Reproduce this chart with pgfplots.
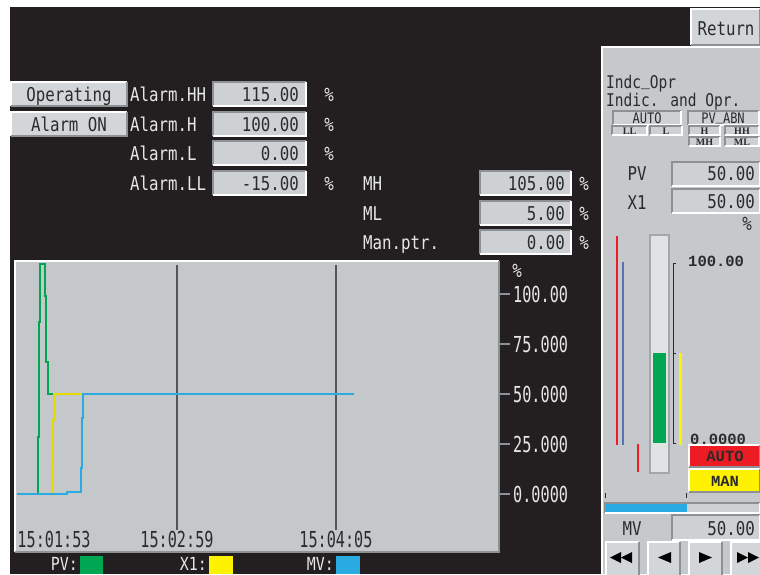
\documentclass[border=0pt]{standalone}
\usepackage{fontspec}
\setmainfont{DejaVu Sans Mono}[FakeStretch=0.83]
\newfontfamily\tallfont{DejaVu Sans Mono}[FakeStretch=0.69]
\newfontfamily\bmono{Liberation Mono}
\newfontfamily\bserif{Liberation Serif}
\usepackage{pgfplots}
\pgfplotsset{compat=1.18}

\definecolor{bgdark}{HTML}{231F20}
\definecolor{panel}{HTML}{C5C9CC}
\definecolor{plotgray}{HTML}{C4C8CB}
\definecolor{fieldfill}{HTML}{CDD1D4}
\definecolor{btnfill}{HTML}{D3D6D8}
\definecolor{lighttext}{HTML}{E6E7E8}
\definecolor{darktext}{HTML}{2B2B2B}
\definecolor{shadow}{HTML}{8E9194}
\definecolor{pvgreen}{HTML}{00A651}
\definecolor{xyellow}{HTML}{FFF200}
\definecolor{mvblue}{HTML}{29ABE2}
\definecolor{alarmred}{HTML}{ED1C24}
\definecolor{limblue}{HTML}{5B6FB8}

% sunken field: x1 y1 x2 y2 (y grows downwards)
\newcommand\sunken[4]{%
  \fill[fieldfill] (#1,#2) rectangle (#3,#4);
  \draw[shadow,line width=1.5pt] (#1,#4) -- (#1,#2) -- (#3,#2);
  \draw[white,line width=1.5pt] (#3,#2) -- (#3,#4) -- (#1,#4);}
% raised button: x1 y1 x2 y2 fill
\newcommand\raised[5]{%
  \fill[#5] (#1,#2) rectangle (#3,#4);
  \draw[white,line width=1.5pt] (#1,#4) -- (#1,#2) -- (#3,#2);
  \draw[shadow,line width=1.5pt] (#3,#2) -- (#3,#4) -- (#1,#4);}
% text: x, vertical centre, colour, text
\newcommand\lt[4]{\node[anchor=base west,inner sep=0pt,text=#3] at (#1,{#2+7}) {#4};}
\newcommand\rt[4]{\node[anchor=base east,inner sep=0pt,text=#3] at (#1,{#2+7}) {#4};}
\newcommand\ct[4]{\node[anchor=base,inner sep=0pt,text=#3] at (#1,{#2+7}) {#4};}
\newcommand\us{\raisebox{3pt}{\symbol{95}}}

\begin{document}
\begin{tikzpicture}[x=1pt,y=-1pt,font=\fontsize{19}{21}\selectfont]
\useasboundingbox (0,0) rectangle (760,574);
\fill[white] (0,0) rectangle (760,574);
\fill[bgdark] (10,7) rectangle (760,574);

% ---- alarm settings
\raised{11}{82}{127}{106}{btnfill}
\raised{11}{112}{127}{136}{btnfill}
\ct{69}{94}{darktext}{Operating}
\ct{69}{124}{darktext}{Alarm ON}
\lt{130}{94}{lighttext}{Alarm.HH}
\lt{130}{124}{lighttext}{Alarm.H}
\lt{130}{153}{lighttext}{Alarm.L}
\lt{130}{183}{lighttext}{Alarm.LL}
\sunken{213}{82}{306}{106}
\sunken{213}{112}{306}{136}
\sunken{213}{141}{306}{165}
\sunken{213}{171}{306}{195}
\rt{299}{94}{darktext}{115.00}
\rt{299}{124}{darktext}{100.00}
\rt{299}{153}{darktext}{0.00}
\rt{299}{183}{darktext}{-15.00}
\foreach \yy in {94,124,153,183} {\ct{329}{\yy}{lighttext}{\%}}

\lt{363}{183}{lighttext}{MH}
\lt{363}{213}{lighttext}{ML}
\lt{363}{242}{lighttext}{Man.ptr.}
\sunken{480}{171}{571}{195}
\sunken{480}{201}{571}{225}
\sunken{480}{230}{571}{254}
\rt{565}{183}{darktext}{105.00}
\rt{565}{213}{darktext}{5.00}
\rt{565}{242}{darktext}{0.00}
\foreach \yy in {183,213,242} {\ct{584}{\yy}{lighttext}{\%}}

% ---- trend
\begin{axis}[
  at={(15pt,-552pt)}, anchor=south west,
  width=484pt, height=291pt, scale only axis,
  xmin=-1.25, xmax=199.7, ymin=-29, ymax=116.5,
  axis background/.style={fill=plotgray},
  axis line style={draw=none},
  xtick=\empty,
  ytick={0,25,50,75,100},
  yticklabels={0.0000,25.000,50.000,75.000,100.00},
  ytick pos=right, yticklabel pos=right,
  tick align=outside, major tick length=11pt,
  tick style={draw=shadow,line width=1.3pt},
  yticklabel style={font=\tallfont\fontsize{22}{22}\selectfont,
    text=lighttext, anchor=west, inner sep=0pt, xshift=3pt},
]
\draw[darktext!80,line width=1.3pt] (axis cs:66,114.5) -- (axis cs:66,-18);
\draw[darktext!80,line width=1.3pt] (axis cs:132,114.5) -- (axis cs:132,-18);
\addplot[pvgreen,line width=2pt] coordinates {
  (-0.5,0) (8.2,0) (8.2,28.5) (8.6,28.5) (8.6,86) (9.1,86) (9.1,115)
  (11.1,115) (11.1,99) (11.6,99) (11.6,66) (12.3,66) (12.3,50) (139.5,50)};
\addplot[xyellow!90!black,line width=2pt] coordinates {
  (-0.5,0) (14.1,0) (14.1,12) (14.5,12) (14.5,37) (14.9,37) (14.9,50) (139.5,50)};
\addplot[mvblue,line width=2pt] coordinates {
  (-0.5,0) (20.3,0) (20.3,1) (26.2,1) (26.2,13) (26.6,13) (26.6,38)
  (27.0,38) (27.0,50) (139.5,50)};
\node[anchor=base west,inner sep=0pt,font=\tallfont\fontsize{22}{22}\selectfont,text=darktext]
  at (axis cs:-0.3,-26.5) {15:01:53};
\node[anchor=base,inner sep=0pt,font=\tallfont\fontsize{22}{22}\selectfont,text=darktext]
  at (axis cs:66,-26.5) {15:02:59};
\node[anchor=base,inner sep=0pt,font=\tallfont\fontsize{22}{22}\selectfont,text=darktext]
  at (axis cs:132,-26.5) {15:04:05};
\end{axis}
\draw[white,line width=1.5pt] (15,552) -- (15,261) -- (499,261);
\draw[shadow,line width=2pt] (499,261) -- (499,552) -- (15,552);
\ct{517}{270}{lighttext}{\%}

% legend
\begin{scope}[font=\fontsize{18}{18}\selectfont]
\node[anchor=base east,inner sep=0pt,text=lighttext] at (78,570) {PV:};
\node[anchor=base east,inner sep=0pt,text=lighttext] at (207,570) {X1:};
\node[anchor=base east,inner sep=0pt,text=lighttext] at (334,570) {MV:};
\end{scope}
\fill[pvgreen] (80,556) rectangle (103,574);
\fill[xyellow] (209,556) rectangle (233,574);
\fill[mvblue] (336,556) rectangle (360,574);

% ---- right panel
\raised{691}{9}{760}{45}{btnfill}
\ct{726}{28}{darktext}{Return}
\fill[panel] (602,47) rectangle (760,574);
\draw[white,line width=1.5pt] (602,574) -- (602,47) -- (760,47);
\begin{scope}[font=\fontsize{17.5}{18}\selectfont]
\node[anchor=base west,inner sep=0pt,text=darktext] at (606,88) {Indc\us Opr};
\node[anchor=base west,inner sep=0pt,text=darktext] at (606,106) {Indic. and Opr.};
\end{scope}
\sunken{613}{111}{681}{125}
\sunken{688}{111}{759}{125}
\node[anchor=base,inner sep=0pt,text=darktext,font=\fontsize{14.5}{15}\selectfont] at (647,123) {AUTO};
\node[anchor=base,inner sep=0pt,text=darktext,font=\fontsize{14.5}{15}\selectfont] at (723,123) {PV\us ABN};
\begin{scope}[font=\bserif\bfseries\fontsize{10}{10}\selectfont]
\foreach \xa/\xb/\yy/\tx in {612/647/126/LL,650/682/126/L,689/720/126/H,725/759/126/HH,689/720/137/MH,725/759/137/ML} {
  \sunken{\xa}{\yy}{\xb}{\yy+9}
  \node[anchor=base,inner sep=0pt,text=darktext] at ({(\xa+\xb)/2},\yy+8) {\tx};
}
\end{scope}
\ct{637}{173}{darktext}{PV}
\ct{637}{202}{darktext}{X1}
\sunken{672}{162}{760}{186}
\sunken{672}{189}{760}{213}
\rt{755}{173}{darktext}{50.00}
\rt{755}{201}{darktext}{50.00}
\ct{747}{223}{darktext}{\%}

% bargraph
\begin{axis}[
  at={(600pt,-480pt)}, anchor=south west,
  width=100pt, height=250pt, scale only axis,
  xmin=600, xmax=700, ymin=-20.56, ymax=118.33,
  hide axis, clip=false,
]
\fill[btnfill!70!white] (axis cs:650,115.5) rectangle (axis cs:669,-16.7);
\draw[shadow!80,line width=2.5pt] (axis cs:650,115.5) rectangle (axis cs:669,-16.7);
\addplot[alarmred,line width=1.3pt] coordinates {(617,115) (617,-1.1)};
\addplot[limblue,line width=1.3pt] coordinates {(623,100.6) (623,-1.1)};
\addplot[alarmred,line width=1.3pt] coordinates {(638,-0.6) (638,-16.1)};
\addplot[fill=pvgreen,draw=none] coordinates {(653,0) (653,50) (666,50) (666,0)} -- cycle;
\addplot[xyellow,line width=3pt] coordinates {(680.5,50) (680.5,-1.1)};
\draw[darktext,line width=0.9pt] (axis cs:676,100) -- (axis cs:673,100) -- (axis cs:673,0) -- (axis cs:676,0);
\draw[darktext,line width=0.9pt] (axis cs:673,50) -- (axis cs:676,50);
\node[anchor=west,inner sep=0pt,font=\bmono\bfseries\fontsize{15.5}{15.5}\selectfont,text=darktext]
  at (axis cs:688,101) {100.00};
\node[anchor=west,inner sep=0pt,font=\bmono\bfseries\fontsize{15.5}{15.5}\selectfont,text=darktext]
  at (axis cs:690,2.2) {0.0000};
\end{axis}
\raised{689}{445}{760}{467}{alarmred}
\raised{689}{469}{760}{492}{xyellow}
\node[inner sep=0pt,font=\bmono\bfseries\fontsize{15.5}{15.5}\selectfont,text=darktext] at (725,456) {AUTO};
\node[inner sep=0pt,font=\bmono\bfseries\fontsize{15.5}{15.5}\selectfont,text=darktext] at (725,481) {MAN};
\draw[darktext,line width=1pt] (605,493) -- (605,498) (686,493) -- (686,498);

% MV bar
\sunken{605}{503}{760}{513}
\begin{axis}[
  at={(606pt,-512pt)}, anchor=south west,
  width=154pt, height=8pt, scale only axis,
  xmin=0, xmax=95, ymin=0, ymax=1, hide axis,
]
\addplot[fill=mvblue,draw=none] coordinates {(0,0) (50,0) (50,1) (0,1)} -- cycle;
\end{axis}
\ct{632}{528}{darktext}{MV}
\sunken{672}{515}{760}{540}
\rt{755}{528}{darktext}{50.00}

% navigation buttons
\raised{606}{542}{639}{576}{btnfill}
\raised{648}{542}{680}{576}{btnfill}
\raised{689}{542}{722}{576}{btnfill}
\raised{731}{542}{762}{576}{btnfill}
\fill[black] (610,557.5) -- (621,552) -- (621,563) -- cycle;
\fill[black] (621,557.5) -- (632,552) -- (632,563) -- cycle;
\fill[black] (658,557.5) -- (671,552) -- (671,563) -- cycle;
\fill[black] (712,557.5) -- (699,552) -- (699,563) -- cycle;
\fill[black] (748,557.5) -- (737,552) -- (737,563) -- cycle;
\fill[black] (759,557.5) -- (748,552) -- (748,563) -- cycle;
\end{tikzpicture}
\end{document}
